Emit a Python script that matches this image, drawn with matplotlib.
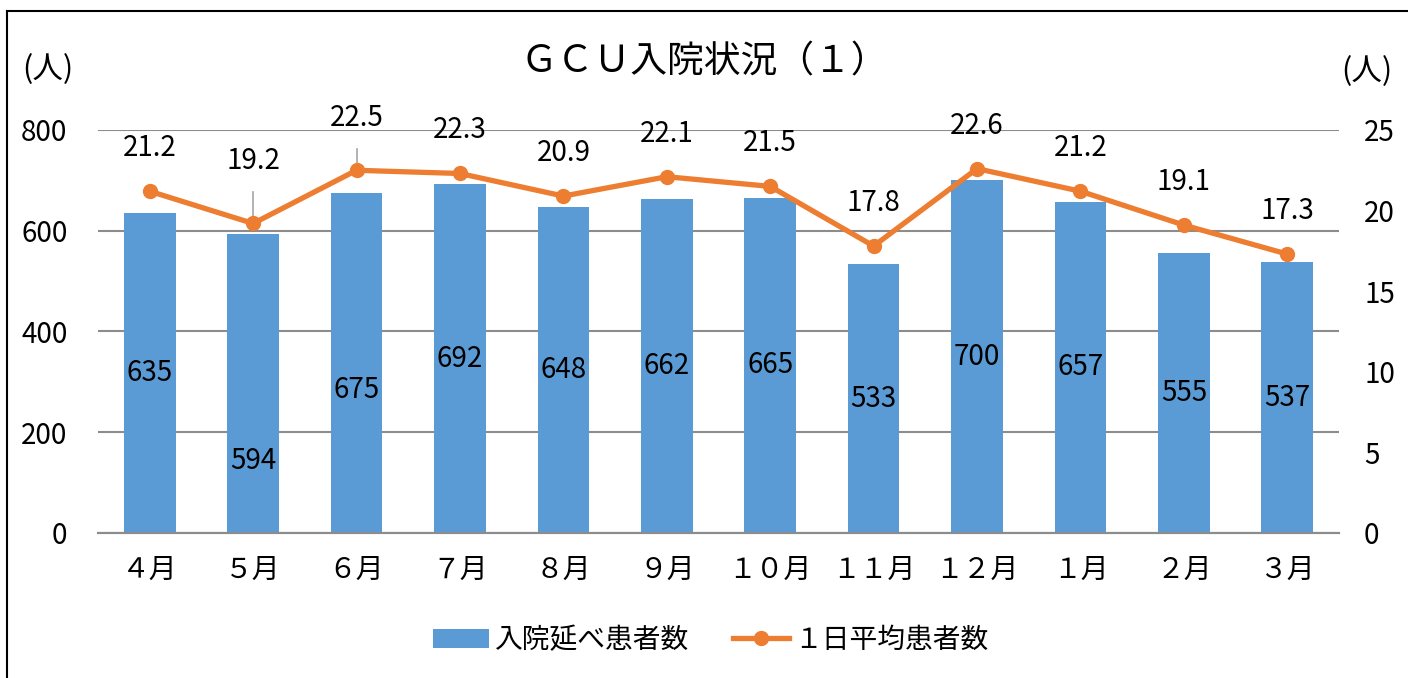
import numpy as np
import matplotlib
matplotlib.use("Agg")
import matplotlib.pyplot as plt
from matplotlib.lines import Line2D

plt.rcParams['font.family'] = ['Noto Sans CJK JP', 'DejaVu Sans']

months = ["４月", "５月", "６月", "７月", "８月", "９月",
          "１０月", "１１月", "１２月", "１月", "２月", "３月"]
total_patients = [635, 594, 675, 692, 648, 662, 665, 533, 700, 657, 555, 537]
daily_avg = [21.2, 19.2, 22.5, 22.3, 20.9, 22.1, 21.5, 17.8, 22.6, 21.2, 19.1, 17.3]

bar_color = "#5B9BD5"
line_color = "#ED7D31"
grid_color = "#8C8C8C"

# labels that were dragged away from their default spot in the original
bar_label_moved = {1: 143, 2: 284}
line_label_moved = {1: 23.1, 2: 25.75}

fig = plt.figure(figsize=(14.08, 6.78), dpi=100)
ax = fig.add_axes([0.0696, 0.2139, 0.8814, 0.5944])
ax2 = ax.twinx()

x = np.arange(len(months))
ax.bar(x, total_patients, 0.5, color=bar_color, label="入院延べ患者数", zorder=2)
ax.set_xlim(-0.5, len(months) - 0.5)
ax.set_ylim(0, 800)
ax.set_yticks(np.arange(0, 801, 200))
ax.grid(axis="y", color=grid_color, linewidth=1.5)
ax.set_axisbelow(True)
ax.set_xticks(x)
ax.set_xticklabels(months)

ax2.plot(x, daily_avg, color=line_color, linewidth=3.8, marker="o",
         markersize=10, label="１日平均患者数", zorder=3)
ax2.set_ylim(0, 25)
ax2.set_yticks(np.arange(0, 26, 5))

for a in (ax, ax2):
    for s in ("top", "left", "right"):
        a.spines[s].set_visible(False)
    a.spines["bottom"].set_color(grid_color)
    a.spines["bottom"].set_linewidth(1.5)
    a.tick_params(length=0, labelsize=20)
ax.tick_params(axis="y", pad=22)
ax2.tick_params(axis="y", pad=18)
ax.tick_params(axis="x", pad=16)

# bar value labels (centre of bar)
for i, v in enumerate(total_patients):
    yy = bar_label_moved.get(i, v / 2)
    ax.text(i, yy, str(v), ha="center", va="center", fontsize=20, zorder=4)

# line value labels
for i, v in enumerate(daily_avg):
    if i in line_label_moved:
        ly = line_label_moved[i]
        ax2.text(i, ly, f"{v:.1f}", ha="center", va="center", fontsize=20)
        ax2.plot([i, i], [ly - 1.95, v + 0.1], color="#A6A6A6", linewidth=1.2, zorder=2)
    else:
        ax2.annotate(f"{v:.1f}", (i, v), xytext=(0, 31), textcoords="offset points",
                     ha="center", va="center", fontsize=20)

fig.text(0.5, 0.908, "ＧＣＵ入院状況（１）", ha="center", va="center", fontsize=26.5)
fig.text(0.034, 0.898, "(人)", ha="center", va="center", fontsize=22)
fig.text(0.971, 0.895, "(人)", ha="center", va="center", fontsize=22)

h1, l1 = ax.get_legend_handles_labels()
h2, l2 = ax2.get_legend_handles_labels()
fig.legend(h1 + h2, l1 + l2, loc="center", bbox_to_anchor=(0.505, 0.056),
           ncol=2, frameon=False, fontsize=20, handlelength=2.0,
           columnspacing=1.6, handletextpad=0.2)

# outer frame (only top and left edge visible in the original crop)
fig.add_artist(Line2D([0.005, 0.005], [0, 0.984], color="black", linewidth=1.5))
fig.add_artist(Line2D([0.005, 1.0], [0.984, 0.984], color="black", linewidth=1.5))

fig.savefig("out.png", dpi=100)
